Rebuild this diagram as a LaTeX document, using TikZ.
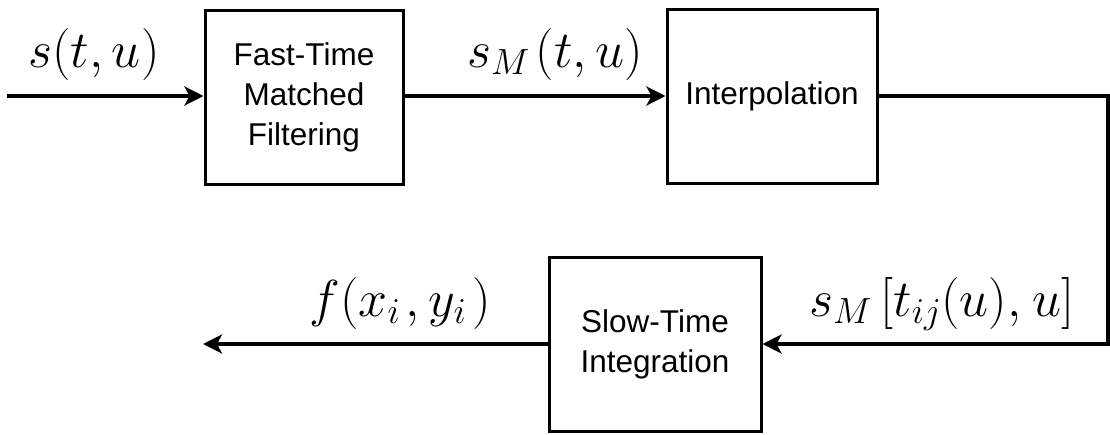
\RequirePackage{fix-cm}
\documentclass[tikz,border=0pt]{standalone}
\usepackage{fontspec}
\setmainfont{Liberation Sans}
\usetikzlibrary{arrows.meta}
\begin{document}
\begin{tikzpicture}[x=1pt,y=-1pt,
  blk/.style={draw, line width=3pt, inner sep=0pt, align=center,
    minimum height=174pt, font=\fontsize{31.5}{40}\selectfont},
  conn/.style={line width=3.5pt, -{Stealth[length=19pt,width=19pt,inset=5pt]}},
  lbl/.style={anchor=base, inner sep=0pt, font=\fontsize{52}{62}\selectfont}]
\useasboundingbox (0,0) rectangle (1110,434);

% processing blocks
\node[blk, minimum width=198pt] (mf)  at (304,97)  {Fast-Time\\Matched\\Filtering};
\node[blk, minimum width=210pt] (ip)  at (772,96)  {Interpolation};
\node[blk, minimum width=212pt] (sti) at (655,344) {Slow-Time\\Integration};

% free ends and the bend of the return path
\coordinate (in)   at (7,96);
\coordinate (out)  at (203,344);
\coordinate (bend) at (1108,96);

% signal flow
\draw[conn] (in) -- (mf.west |- in);
\draw[conn] (mf.east |- in) -- (ip);
\draw[conn] (ip.east) -- (bend) |- (sti.east);
\draw[conn] (sti.west) -- (out);

% signal labels
\node[lbl] (l1) at (94,67)   {$s(t,u)$};
\node[lbl] (l2) at (555,67)  {$s_M\mkern2mu(t,u)$};
\node[lbl] (l3) at (942,316) {$s_M\mkern3mu[t_{ij}(u),\mkern1mu u]$};
\node[lbl] (l4) at (400,316) {$f(x_i\mkern2mu,y_i\mkern2mu)$};
\end{tikzpicture}
\end{document}
